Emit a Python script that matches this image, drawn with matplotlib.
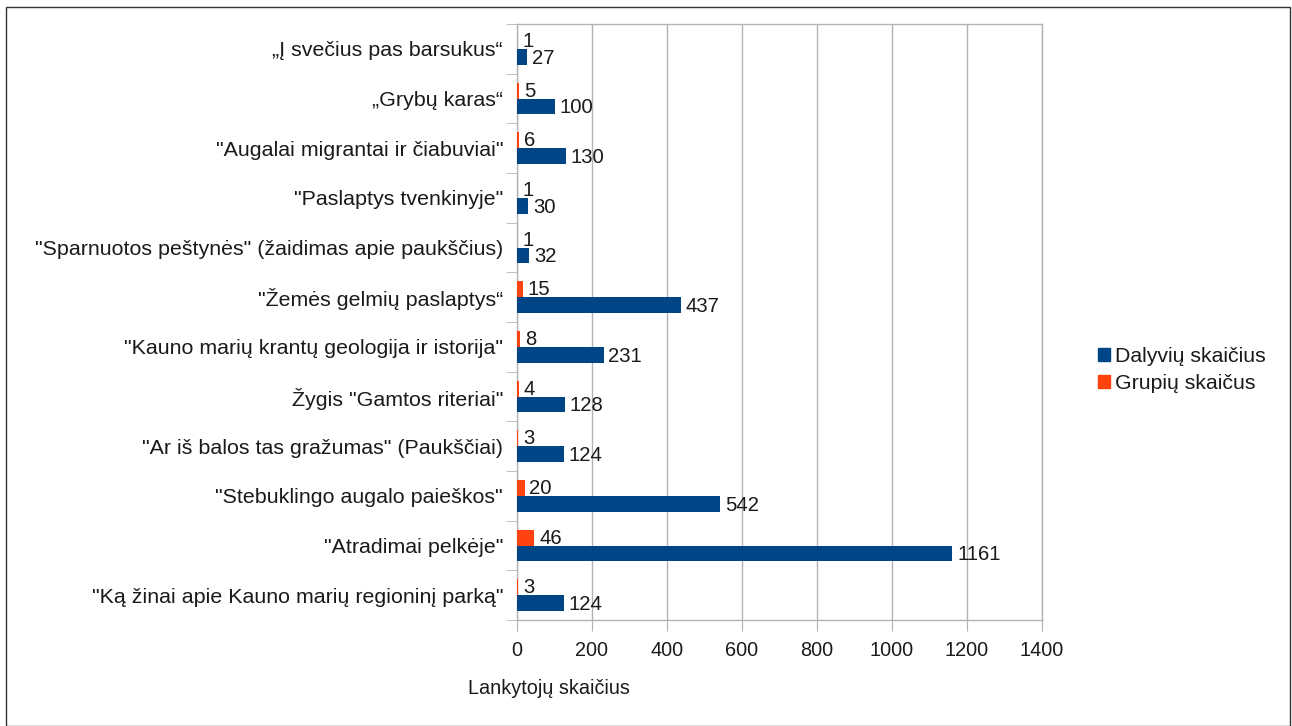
import matplotlib
matplotlib.use("Agg")
import matplotlib.pyplot as plt
import numpy as np
from matplotlib.patches import Rectangle, Patch

plt.rcParams['font.family'] = ['Liberation Sans', 'DejaVu Sans']

categories = [
    "„Į svečius pas barsukus“",
    "„Grybų karas“",
    "\"Augalai migrantai ir čiabuviai\"",
    "\"Paslaptys tvenkinyje\"",
    "\"Sparnuotos peštynės\" (žaidimas apie paukščius)",
    "\"Žemės gelmių paslaptys“",
    "\"Kauno marių krantų geologija ir istorija\"",
    "Žygis \"Gamtos riteriai\"",
    "\"Ar iš balos tas gražumas\" (Paukščiai)",
    "\"Stebuklingo augalo paieškos\"",
    "\"Atradimai pelkėje\"",
    "\"Ką žinai apie Kauno marių regioninį parką\"",
]
dalyviu = [27, 100, 130, 30, 32, 437, 231, 128, 124, 542, 1161, 124]
grupiu = [1, 5, 6, 1, 1, 15, 8, 4, 3, 20, 46, 3]
xticks = [0, 200, 400, 600, 800, 1000, 1200, 1400]

BLUE = "#004586"
ORANGE = "#ff420e"
GRID = "#b3b3b3"
TXT = "#1a1a1a"
FS_CAT = 15.4
FS_VAL = 14.6
FS_TICK = 14.3
FS_LEG = 15.3

fig = plt.figure(figsize=(12.92, 7.26), dpi=100)
ax = fig.add_axes([517/1292, 1-620/726, (1042-517)/1292, (620-24)/726])

n = len(categories)
y = np.arange(n)
h = 0.32
ax.barh(y - h/2, grupiu, height=h, color=ORANGE, label="Grupių skaičus", zorder=3)
ax.barh(y + h/2, dalyviu, height=h, color=BLUE, label="Dalyvių skaičius", zorder=3)

for yi, v in zip(y, grupiu):
    ax.annotate(str(v), (v, yi - h/2), xytext=(3.5, -0.5), textcoords="offset points",
                va="center", ha="left", fontsize=FS_VAL, color=TXT)
for yi, v in zip(y, dalyviu):
    ax.annotate(str(v), (v, yi + h/2), xytext=(3.5, -1), textcoords="offset points",
                va="center", ha="left", fontsize=FS_VAL, color=TXT)

ax.set_xlim(0, 1400)
ax.set_ylim(n - 0.5, -0.5)
ax.set_xticks(xticks)
ax.set_xticklabels([str(t) for t in xticks], fontsize=FS_TICK, color=TXT)
ax.set_yticks(y)
ax.set_yticklabels(categories, fontsize=FS_CAT, color=TXT)
ax.set_yticks(np.arange(-0.5, n, 1.0), minor=True)
ax.tick_params(axis='y', which='major', length=0, pad=10)
ax.tick_params(axis='y', which='minor', length=8, color=GRID, direction='out')
ax.tick_params(axis='x', which='major', length=8, color=GRID, direction='out', pad=7)
ax.grid(axis='x', color=GRID, lw=1, zorder=0)
for s in ax.spines.values():
    s.set_color(GRID)
    s.set_linewidth(1)

fig.text(468/1292, 1-688/726, "Lankytojų skaičius", fontsize=FS_TICK, color=TXT,
         ha="left", va="center")

handles = [Patch(color=BLUE, label="Dalyvių skaičius"),
           Patch(color=ORANGE, label="Grupių skaičus")]
leg = fig.legend(handles=handles, loc="center left",
                 bbox_to_anchor=(1083/1292, 1-370/726), frameon=False,
                 fontsize=FS_LEG, handlelength=0.55, handleheight=0.55,
                 handletextpad=0.25, labelspacing=0.35, borderpad=0.2)
for t in leg.get_texts():
    t.set_color(TXT)

fig.patches.append(Rectangle((6/1292, 0), 1284/1292, 1-7/726, transform=fig.transFigure,
                             fill=False, edgecolor="#333333", lw=1))

fig.savefig("out.png", dpi=100, facecolor="white")
